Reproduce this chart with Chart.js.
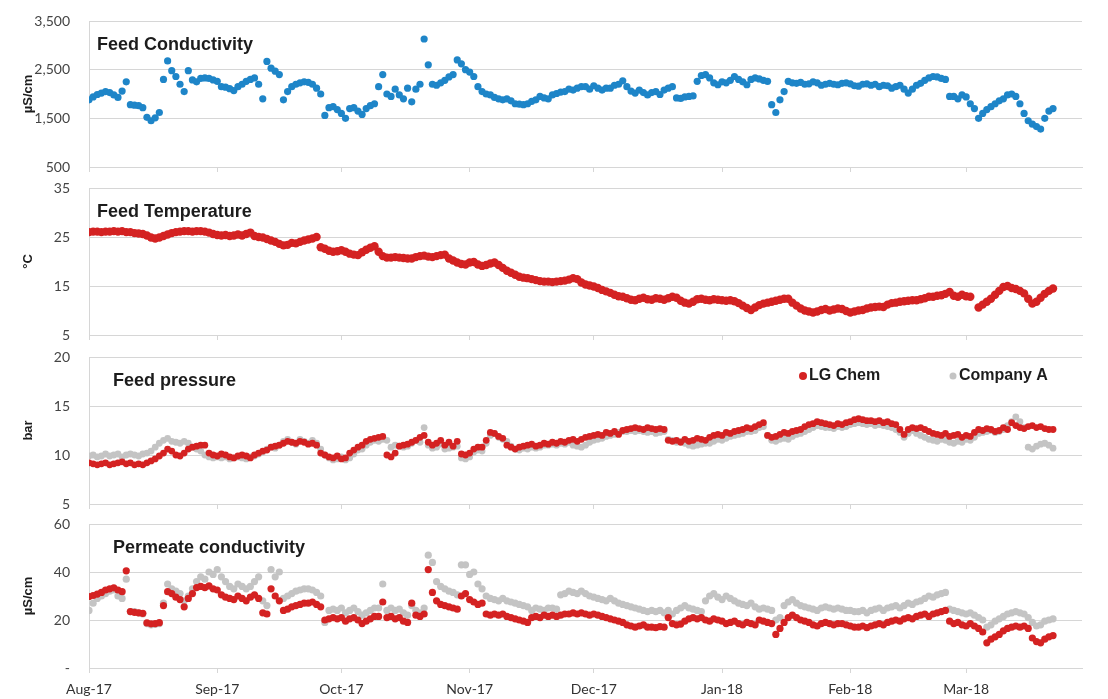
<!DOCTYPE html>
<html>
<head>
<meta charset="utf-8">
<script src="https://cdn.jsdelivr.net/npm/chart.js@4.4.1/dist/chart.umd.min.js"></script>
<style>
  html, body { margin: 0; padding: 0; background: #fff; }
  #wrap { position: relative; width: 1108px; height: 699px; overflow: hidden; }
  #wrap canvas { position: absolute; left: 0; }
</style>
</head>
<body>
<div id="wrap">
  <canvas id="cond" width="1108" height="175" style="top:0px"></canvas>
  <canvas id="temp" width="1108" height="168" style="top:175px"></canvas>
  <canvas id="press" width="1108" height="169" style="top:343px"></canvas>
  <canvas id="perm" width="1108" height="187" style="top:512px"></canvas>
</div>
<script>
// Daily readings, day 0 = 1 Aug 2017
const monthStarts = [0, 31, 61, 92, 122, 153, 184, 212];
const monthLabels = ['Aug-17', 'Sep-17', 'Oct-17', 'Nov-17', 'Dec-17', 'Jan-18', 'Feb-18', 'Mar-18'];

// Feed conductivity, µS/cm
const feedConductivity = [
  1880,1940,1990,2020,2050,2030,1980,1930,2060,2250,
  1780,1770,1760,1720,1520,1450,1510,1620,2300,2680,
  2480,2360,2200,2050,2480,2290,2250,2320,2330,2320,
  2290,2260,2150,2140,2110,2070,2150,2200,2260,2300,
  2330,2200,1900,2670,2530,2470,2400,1880,2050,2150,
  2200,2230,2250,2240,2200,2120,2000,1560,1720,1740,
  1680,1600,1500,1700,1720,1650,1580,1700,1760,1800,
  2150,2400,2000,1950,2100,1980,1900,2120,1840,2100,
  2200,3130,2600,2200,2180,2230,2280,2350,2400,2700,
  2620,2500,2450,2360,2150,2050,2000,1980,1930,1900,
  1880,1900,1860,1800,1790,1780,1800,1850,1880,1950,
  1920,1900,1980,2010,2040,2050,2100,2080,2120,2150,
  2150,2100,2170,2120,2080,2120,2120,2180,2200,2270,
  2150,2060,2020,2080,2030,1980,2030,2050,1990,2080,
  2120,2150,1920,1910,1940,1950,1960,2260,2380,2400,
  2330,2230,2190,2250,2230,2280,2360,2300,2250,2190,
  2300,2330,2310,2280,2260,1780,1620,1880,2050,2260,
  2230,2220,2240,2200,2210,2250,2230,2180,2200,2220,
  2200,2190,2220,2230,2210,2170,2160,2200,2210,2180,
  2200,2150,2180,2170,2120,2150,2180,2100,2020,2100,
  2180,2220,2280,2330,2360,2350,2320,2300,1950,1950,
  1900,1980,1940,1800,1700,1500,1600,1680,1740,1800,
  1860,1900,1980,2000,1950,1800,1600,1450,1380,1330,
  1280,1500,1650,1700
];

// Feed temperature, °C
const feedTemperature = [
  26.0,26.1,26.1,26.0,26.1,26.1,26.2,26.1,26.2,26.0,
  26.0,25.8,25.7,25.6,25.3,24.9,24.7,24.9,25.2,25.5,
  25.8,26.0,26.1,26.2,26.2,26.1,26.2,26.2,26.1,25.9,
  25.6,25.4,25.3,25.4,25.2,25.3,25.5,25.3,25.6,25.9,
  25.2,25.0,24.9,24.6,24.3,24.0,23.6,23.3,23.4,23.8,
  23.7,24.0,24.3,24.5,24.7,25.0,22.9,22.6,22.2,22.0,
  22.1,22.3,22.0,21.6,21.4,21.3,21.9,22.4,22.8,23.1,
  22.0,21.1,20.8,20.8,20.9,20.8,20.7,20.6,20.6,20.9,
  21.1,21.2,21.0,20.9,21.1,21.3,21.4,20.6,20.2,19.8,
  19.5,19.4,19.8,19.9,19.4,19.1,19.3,19.6,19.8,19.3,
  18.7,18.1,17.7,17.3,16.9,16.7,16.6,16.4,16.2,16.0,
  15.9,15.9,15.8,15.9,16.0,16.1,16.3,16.6,16.4,15.7,
  15.3,15.1,14.9,14.6,14.2,13.9,13.6,13.2,12.9,12.8,
  12.5,12.2,12.1,12.4,12.6,12.3,12.2,12.5,12.4,12.2,
  12.5,12.8,12.6,12.0,11.6,11.4,11.8,12.3,12.4,12.2,
  12.1,12.3,12.2,12.1,12.0,12.1,11.9,11.5,11.0,10.5,
  10.1,10.6,11.1,11.4,11.6,11.8,12.0,12.2,12.4,12.4,
  11.6,11.0,10.4,10.0,9.8,9.6,9.8,10.1,10.3,10.0,
  10.2,10.4,10.3,9.9,9.6,9.8,10.0,10.1,10.4,10.6,
  10.7,10.8,10.7,11.2,11.5,11.6,11.8,11.9,12.0,12.1,
  12.1,12.3,12.5,12.8,12.8,13.0,13.1,13.4,13.8,13.0,
  12.8,13.2,12.9,12.8,null,10.6,11.2,11.8,12.4,13.2,
  14.0,14.8,15.0,14.6,14.4,14.0,13.5,12.4,11.4,11.8,
  12.6,13.4,14.0,14.5
];

// Feed pressure, bar
const pressureLG = [
  9.2,9.1,9.0,9.1,9.2,9.0,9.1,9.2,9.3,9.1,
  9.2,9.0,9.1,9.0,9.2,9.4,9.6,9.9,10.2,10.6,
  10.4,10.0,9.9,10.2,10.6,10.8,10.9,11.0,11.0,10.2,
  10.0,9.9,10.1,10.0,9.8,9.7,9.9,10.0,9.9,9.7,
  10.0,10.2,10.4,10.5,10.8,10.9,11.0,11.2,11.4,11.3,
  11.2,11.4,11.3,11.1,11.2,11.0,10.2,10.0,9.8,9.7,
  9.9,9.6,9.7,10.2,10.5,10.8,11.0,11.4,11.6,11.7,
  11.8,11.9,10.0,9.8,10.2,10.9,11.0,11.1,11.3,11.5,
  11.8,12.0,11.3,11.0,11.2,11.5,11.0,11.3,10.9,11.4,
  10.1,10.0,10.2,10.6,10.8,10.8,11.5,12.3,12.2,11.9,
  11.7,11.0,10.8,10.6,10.8,10.9,11.0,11.1,10.9,11.0,
  11.2,11.1,11.3,11.2,11.4,11.3,11.5,11.6,11.4,11.6,
  11.8,11.9,12.0,12.1,12.0,12.3,12.2,12.4,12.1,12.5,
  12.6,12.7,12.8,12.7,12.6,12.8,12.7,12.6,12.7,12.6,
  11.5,11.4,11.5,11.3,11.6,11.4,11.5,11.7,11.6,11.5,
  11.8,12.0,12.1,12.0,12.3,12.2,12.4,12.5,12.6,12.8,
  12.7,12.9,13.1,13.3,12.0,11.8,11.9,12.1,12.3,12.2,
  12.4,12.5,12.6,12.9,13.1,13.2,13.4,13.3,13.2,13.1,
  13.0,13.2,13.1,13.3,13.4,13.6,13.7,13.6,13.5,13.5,
  13.4,13.5,13.3,13.4,13.2,13.1,12.6,12.1,12.6,12.8,
  12.7,12.8,12.6,12.4,12.2,12.1,12.0,12.2,11.9,12.0,
  12.1,11.8,12.0,11.9,12.3,12.6,12.5,12.7,12.6,12.4,
  12.5,12.8,12.6,13.3,13.0,12.8,12.7,12.9,13.0,12.8,
  12.9,12.7,12.6,12.6
];
const pressureA = [
  9.9,10.0,9.8,9.9,10.1,9.9,10.0,10.1,9.8,10.0,
  10.1,10.0,9.9,10.1,10.2,10.4,10.8,11.2,11.5,11.7,
  11.4,11.3,11.2,11.4,11.2,10.8,10.6,10.4,10.0,9.8,
  9.7,9.8,9.7,9.8,9.6,9.7,9.8,9.7,9.6,9.8,
  9.9,10.1,10.3,10.6,10.8,10.7,11.0,11.4,11.6,11.3,
  11.1,11.6,11.4,11.2,11.5,11.2,10.6,10.0,9.7,9.5,
  9.6,9.8,9.5,9.7,10.1,10.5,10.6,11.0,11.3,11.5,
  11.4,11.6,11.5,10.8,11.0,10.9,10.8,10.9,11.2,11.5,
  11.3,12.8,11.0,10.7,10.8,11.1,10.6,10.7,10.8,10.9,
  9.7,9.6,9.8,10.3,10.5,10.4,11.2,12.0,12.2,11.8,
  11.6,11.4,10.9,10.6,10.5,10.7,10.6,10.8,10.7,10.8,
  11.0,11.0,11.1,11.0,11.2,11.1,11.3,11.0,10.9,10.8,
  11.0,11.3,11.5,11.6,11.7,11.9,12.0,12.1,12.3,12.4,
  12.4,12.5,12.4,12.5,12.4,12.3,12.4,12.2,12.3,12.4,
  11.6,11.5,11.3,11.4,11.2,11.0,10.9,11.0,11.1,11.2,
  11.2,11.4,11.6,11.5,11.7,11.9,12.0,12.1,12.2,12.4,
  12.4,12.5,12.8,12.9,12.0,11.5,11.4,11.6,11.7,11.6,
  11.9,12.1,12.2,12.4,12.6,12.8,13.0,12.9,12.8,12.8,
  12.7,12.9,12.8,12.9,13.1,13.2,13.3,13.2,13.1,13.2,
  13.0,13.1,13.0,12.9,12.8,12.6,12.3,11.8,12.2,12.5,
  12.2,12.0,11.8,11.6,11.5,11.4,11.6,11.5,11.3,11.2,
  11.4,11.3,11.6,11.5,11.8,12.2,12.3,12.4,12.5,12.3,
  12.4,12.6,13.0,13.4,13.9,13.4,12.8,10.8,10.6,10.9,
  11.1,11.2,11.0,10.7
];

// Permeate conductivity, µS/cm
const permeateLG = [
  29.8,30.2,30.8,31.5,32.5,33.0,33.4,32.5,31.8,40.5,
  23.5,23.2,23.0,22.8,18.8,18.4,18.5,18.9,26.0,31.8,
  31.0,29.5,28.5,25.5,29.0,31.0,33.5,34.0,33.5,34.2,
  33.0,32.5,30.5,29.5,29.0,28.5,30.0,29.0,28.0,29.5,
  30.5,29.0,23.0,22.5,33.0,30.0,28.0,24.0,24.5,25.5,
  26.0,26.5,27.0,27.0,27.5,26.5,25.5,20.0,20.5,21.0,
  20.5,21.0,19.5,20.5,21.0,20.0,18.5,19.5,20.5,21.5,
  21.5,27.5,21.0,21.5,20.5,21.0,19.5,19.0,27.0,22.0,
  21.5,22.5,41.0,31.5,28.0,26.5,26.0,25.5,25.0,24.5,
  30.0,31.0,28.5,27.5,26.5,27.0,22.5,22.0,22.5,22.0,
  22.5,21.5,21.0,20.5,20.0,19.5,19.0,21.0,21.5,21.0,
  22.0,21.5,22.0,21.5,22.0,22.5,22.5,23.0,22.5,23.0,
  22.5,22.0,22.5,22.0,21.5,21.0,20.5,20.0,19.5,19.0,
  18.0,17.5,17.0,17.5,18.0,17.0,17.0,16.8,17.2,17.0,
  21.0,18.5,18.0,18.3,19.5,20.5,21.0,20.5,21.0,20.0,
  19.5,20.5,20.0,19.5,18.5,19.0,19.5,18.5,18.0,19.0,
  18.5,18.0,20.0,19.5,19.0,18.5,14.0,16.5,19.0,21.0,
  22.0,21.0,20.0,19.5,19.0,18.0,17.5,18.5,19.0,18.5,
  18.0,18.5,18.5,18.0,17.5,17.0,17.0,17.5,16.8,17.5,
  18.0,18.5,18.0,19.0,19.5,20.0,19.5,20.5,21.0,20.5,
  21.5,22.0,22.5,21.5,22.5,23.0,23.5,24.0,19.5,18.5,
  19.0,18.0,17.5,18.5,17.5,16.5,15.0,10.5,12.0,13.0,
  14.0,15.5,16.5,17.0,17.5,17.0,17.5,16.5,12.5,11.0,
  10.5,12.0,13.0,13.5
];
const permeateA = [
  24,27,29,30,31,32,32.5,30,29,37,
  23.5,23.5,23,22.5,18.5,18,18.2,18.5,27,35,
  33,32,31,28,30,33,36,38,37,40,
  39,41,38,36,34,33,35,34,33,34,
  36,38,28,26,41,38,40,29,30,31,
  32,32.5,33,33,32.5,31.5,30,19,24,24.5,
  24,25,23,24,25,23.5,22,23,24,25,
  25,35,24,25,24,24.5,23,22,26,24,
  23,25,47,44,36,34,33,32,31.5,30.5,
  43,43,39,40,35,33,30,29,28.5,28,
  29,28,27.5,27,26.5,26,25.5,24,25,24.5,
  24,25,25,24.5,30.5,31,32,31.5,31,32,
  31,30,29.5,29,28.5,28,29,28,27,26.5,
  26,25.5,25,24.5,24,23.5,24,23.5,24,23,
  24,22.5,24,25,26,25,24.5,24,23.5,28,
  30,31,29.5,28.5,30,29,28,27,26.5,26,
  27,25.5,24.5,25,24.5,24,20,21,26,27.5,
  28.5,27,26,25.5,25,24.5,24,25,25.5,25,
  24.5,25,24.5,24,24,23.5,23.5,24,23,24,
  24.5,25,24,25,25.5,26,25,26,27,26.5,
  27.5,28,29,30,29.5,30.5,31,31.5,24.5,24,
  23.5,23,22.5,23,22,21,20,17,18,19.5,
  20.5,21.5,22.5,23,23.5,23,22.5,21,19,17.5,
  18,19.5,20,20.5
];

const BLUE = 'rgb(30,133,200)';
const RED = 'rgb(212,34,34)';
const GREY = 'rgb(196,196,196)';
const GRID = '#d6d6d6';
const TICK_FONT = { family: 'Lato, "Open Sans", sans-serif', size: 14 };

const toPoints = arr => arr.map((v, i) => ({ x: i, y: v }));

// Panel caption, rotated unit label and optional legend
const panelText = {
  id: 'panelText',
  afterDraw(chart, args, o) {
    const { ctx, chartArea: a } = chart;
    ctx.save();
    ctx.fillStyle = '#1c1c1c';
    ctx.textBaseline = 'middle';
    ctx.textAlign = 'left';
    ctx.font = 'bold 18px "Liberation Sans", Arial, sans-serif';
    ctx.fillText(o.title, a.left + o.titleDx, a.top + 24);

    if (o.legend) {
      ctx.font = 'bold 16px "Liberation Sans", Arial, sans-serif';
      o.legend.forEach(item => {
        ctx.beginPath();
        ctx.fillStyle = item.color;
        ctx.arc(item.x, a.top + 19, item.r, 0, Math.PI * 2);
        ctx.fill();
        ctx.fillStyle = '#1c1c1c';
        ctx.fillText(item.label, item.x + 6, a.top + 19);
      });
    }

    ctx.translate(28, (a.top + a.bottom) / 2);
    ctx.rotate(-Math.PI / 2);
    ctx.textAlign = 'center';
    ctx.font = 'bold 13px "Liberation Sans", Arial, sans-serif';
    ctx.fillStyle = '#1c1c1c';
    ctx.fillText(o.unit, 0, 0);
    ctx.restore();
  }
};

function makePanel(id, cfg) {
  return new Chart(document.getElementById(id), {
    type: 'scatter',
    data: { datasets: cfg.datasets },
    plugins: [panelText],
    options: {
      responsive: false,
      animation: false,
      devicePixelRatio: 1,
      layout: { padding: { top: cfg.padTop, right: 26, left: 0, bottom: 0 } },
      plugins: {
        legend: { display: false },
        tooltip: { enabled: false },
        panelText: { title: cfg.title, titleDx: cfg.titleDx, unit: cfg.unit, legend: cfg.legend }
      },
      scales: {
        x: {
          type: 'linear',
          min: 0,
          max: 240,
          afterBuildTicks: s => { s.ticks = monthStarts.map(v => ({ value: v })); },
          afterFit: s => { s.height = cfg.xHeight; s.paddingLeft = 0; s.paddingRight = 0; },
          grid: { drawOnChartArea: false, drawTicks: true, tickLength: 5, color: GRID },
          border: { color: GRID },
          ticks: {
            display: cfg.showX,
            autoSkip: false,
            maxRotation: 0,
            padding: 8,
            color: '#333',
            font: TICK_FONT,
            callback: v => monthLabels[monthStarts.indexOf(v)]
          }
        },
        y: {
          min: cfg.yMin,
          max: cfg.yMax,
          afterFit: s => { s.width = 89; s.paddingTop = 0; s.paddingBottom = 0; },
          grid: { color: GRID, drawTicks: false },
          border: { color: GRID },
          ticks: {
            stepSize: cfg.yStep,
            padding: 19,
            color: '#444',
            font: TICK_FONT,
            callback: cfg.yFormat
          }
        }
      }
    }
  });
}

makePanel('cond', {
  title: 'Feed Conductivity', titleDx: 8, unit: 'µS/cm',
  padTop: 21, xHeight: 8, showX: false,
  yMin: 500, yMax: 3500, yStep: 1000,
  yFormat: v => v.toLocaleString('en-US'),
  datasets: [{
    data: toPoints(feedConductivity),
    backgroundColor: BLUE, borderWidth: 0, pointRadius: 3.6
  }]
});

makePanel('temp', {
  title: 'Feed Temperature', titleDx: 8, unit: '°C',
  padTop: 13, xHeight: 8, showX: false,
  yMin: 5, yMax: 35, yStep: 10,
  yFormat: v => v,
  datasets: [{
    data: toPoints(feedTemperature),
    backgroundColor: RED, borderWidth: 0, pointRadius: 4.2
  }]
});

makePanel('press', {
  title: 'Feed pressure', titleDx: 24, unit: 'bar',
  padTop: 14, xHeight: 8, showX: false,
  yMin: 5, yMax: 20, yStep: 5,
  yFormat: v => v,
  legend: [
    { label: 'LG Chem', color: RED, r: 4, x: 803 },
    { label: 'Company A', color: GREY, r: 3.5, x: 953 }
  ],
  datasets: [
    { label: 'LG Chem', data: toPoints(pressureLG), backgroundColor: RED, borderWidth: 0, pointRadius: 3.4 },
    { label: 'Company A', data: toPoints(pressureA), backgroundColor: GREY, borderWidth: 0, pointRadius: 3.4 }
  ]
});

makePanel('perm', {
  title: 'Permeate conductivity', titleDx: 24, unit: 'µS/cm',
  padTop: 12, xHeight: 31, showX: true,
  yMin: 0, yMax: 60, yStep: 20,
  yFormat: v => (v === 0 ? '-' : v),
  datasets: [
    { label: 'LG Chem', data: toPoints(permeateLG), backgroundColor: RED, borderWidth: 0, pointRadius: 3.6 },
    { label: 'Company A', data: toPoints(permeateA), backgroundColor: GREY, borderWidth: 0, pointRadius: 3.6 }
  ]
});
</script>
</body>
</html>
